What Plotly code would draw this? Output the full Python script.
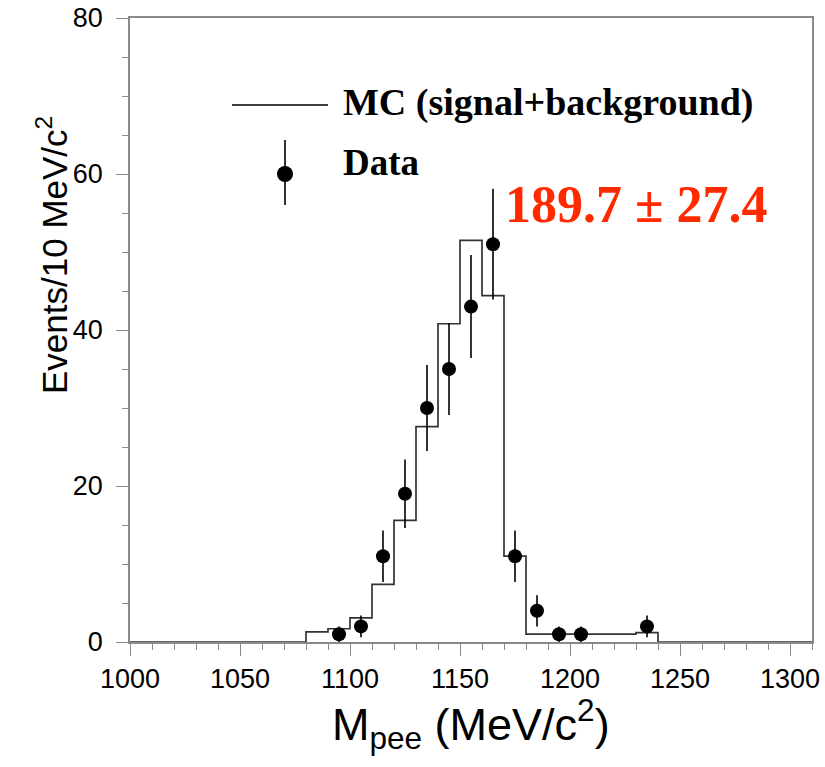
import plotly.graph_objects as go

# MC expectation (signal + background), 10 MeV/c^2 bins given by their low edges;
# the first and last entries close the empty regions of the histogram.
mc_edges = [1000, 1080, 1090, 1100, 1110, 1120, 1130, 1140, 1150, 1160,
            1170, 1180, 1190, 1200, 1210, 1220, 1230, 1240, 1310]
mc_counts = [0.0, 1.3, 1.7, 3.1, 7.4, 15.6, 27.6, 40.8, 51.5, 44.4,
             11.0, 1.0, 1.0, 1.0, 1.0, 1.0, 1.2, 0.0, 0.0]

# Observed events (bin centres) with statistical errors
data_mass = [1095, 1105, 1115, 1125, 1135, 1145, 1155, 1165, 1175, 1185, 1195, 1205, 1235]
data_counts = [1, 2, 11, 19, 30, 35, 43, 51, 11, 4, 1, 1, 2]
data_err = [1.0, 1.4, 3.3, 4.4, 5.5, 5.9, 6.6, 7.1, 3.3, 2.0, 1.0, 1.0, 1.4]

x_ticks = [1000, 1050, 1100, 1150, 1200, 1250, 1300]
y_ticks = [0, 20, 40, 60, 80]

signal_yield = "189.7 ± 27.4"

W, H = 825, 767
ML, MR, MT, MB = 130, 13, 18, 125
PW, PH = W - ML - MR, H - MT - MB


def px(x):
    return (x - ML) / PW


def py(y):
    return (H - MB - y) / PH


SANS = "Liberation Sans, Arial, sans-serif"
SERIF = "Liberation Serif, Times New Roman, serif"
FRAME = "#8a8a8a"

fig = go.Figure()

fig.add_trace(go.Scatter(
    x=mc_edges, y=mc_counts, mode="lines",
    line=dict(shape="hv", color="#333333", width=1.7),
    showlegend=False, hoverinfo="skip",
))

fig.add_trace(go.Scatter(
    x=data_mass, y=data_counts, mode="markers",
    marker=dict(color="black", size=14),
    error_y=dict(type="data", array=data_err, color="black", thickness=1.6, width=0),
    showlegend=False,
))

axis_common = dict(
    automargin=False,
    showgrid=False, zeroline=False, showline=True, linecolor=FRAME, linewidth=1.5,
    mirror=True, ticks="outside", ticklen=12, tickwidth=1.2, tickcolor=FRAME,
    tickfont=dict(family=SANS, size=27, color="black"),
)

fig.update_xaxes(
    range=[1000, 1310], tickvals=x_ticks, ticklabelstandoff=0,
    minor=dict(dtick=10, tick0=1000, ticks="outside", ticklen=6, tickcolor=FRAME, tickwidth=1.2),
    **axis_common,
)
fig.update_yaxes(
    range=[0, 80], tickvals=y_ticks, ticklabelstandoff=8,
    minor=dict(dtick=5, tick0=0, ticks="outside", ticklen=6, tickcolor=FRAME, tickwidth=1.2),
    **axis_common,
)

annotations = [
    # axis titles
    dict(text="Events/10 MeV/c<sup>2</sup>", x=px(52), y=py(114), xref="paper", yref="paper",
         textangle=-90, xanchor="center", yanchor="top", showarrow=False,
         font=dict(family=SANS, size=35, color="black")),
    dict(text="M<sub>pee</sub> (MeV/c<sup>2</sup>)", x=px(471), y=py(724), xref="paper", yref="paper",
         xanchor="center", yanchor="middle", showarrow=False,
         font=dict(family=SANS, size=45, color="black")),
    # legend texts
    dict(text="<b>MC (signal+background)</b>", x=px(341), y=py(103), xref="paper", yref="paper",
         xanchor="left", yanchor="middle", showarrow=False,
         font=dict(family=SERIF, size=38, color="black")),
    dict(text="<b>Data</b>", x=px(341), y=py(163), xref="paper", yref="paper",
         xanchor="left", yanchor="middle", showarrow=False,
         font=dict(family=SERIF, size=37, color="black")),
    # fitted signal yield
    dict(text="<b>" + signal_yield + "</b>", x=px(503), y=py(204), xref="paper", yref="paper",
         xanchor="left", yanchor="middle", showarrow=False,
         font=dict(family=SERIF, size=52, color="#ff2a00")),
]

shapes = [
    # legend: MC line sample
    dict(type="line", xref="paper", yref="paper", x0=px(232), x1=px(328), y0=py(105), y1=py(105),
         line=dict(color="black", width=1.6)),
    # legend: data marker with error bar
    dict(type="line", xref="paper", yref="paper", x0=px(285), x1=px(285), y0=py(140), y1=py(205),
         line=dict(color="black", width=1.6)),
    dict(type="circle", xref="paper", yref="paper", x0=px(277), x1=px(293), y0=py(182), y1=py(166),
         fillcolor="black", line=dict(color="black", width=0)),
]

fig.update_layout(
    width=W, height=H,
    margin=dict(l=ML, r=MR, t=MT, b=MB, autoexpand=False),
    paper_bgcolor="white", plot_bgcolor="white",
    annotations=annotations, shapes=shapes,
)

fig.write_html("out.html")
